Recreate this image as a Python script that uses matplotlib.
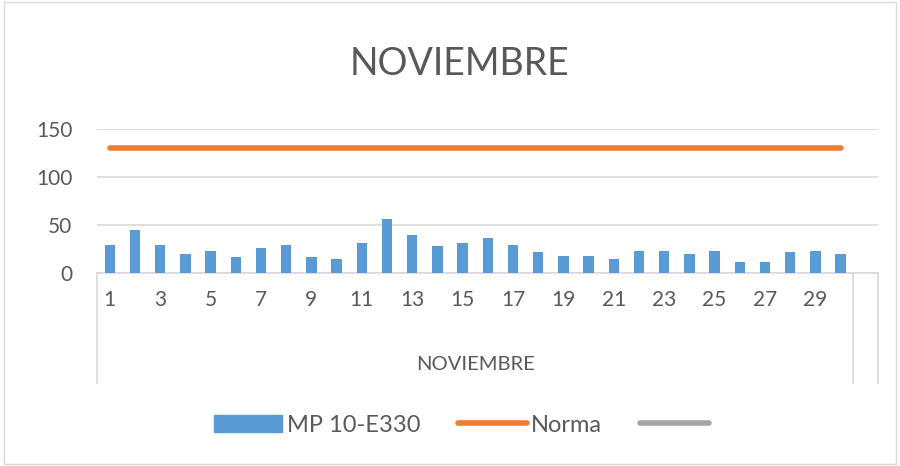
import matplotlib.pyplot as plt
from matplotlib.transforms import blended_transform_factory
from matplotlib.patches import Rectangle
from matplotlib.lines import Line2D

# Datos diarios de noviembre
dias = list(range(1, 31))
mp10 = [29, 45, 29, 20, 23, 17, 26, 29, 17, 15,
        31, 56, 40, 28, 31, 37, 29, 22, 18, 18,
        15, 23, 23, 20, 23, 12, 12, 22, 23, 20]
norma = [130] * 30
serie3 = []  # tercera serie vacia (gris en la leyenda)
tick_labels = [str(d) for d in dias[::2]]

plt.rcParams['font.family'] = ['Lato', 'DejaVu Sans']
txt = '#595959'

fig = plt.figure(figsize=(9, 4.66), dpi=100)
ax = fig.add_axes([0.108, 0.414, 0.868, 0.309])

x = list(range(len(dias)))
ax.bar(x, mp10, width=0.42, color='#5B9BD5', zorder=3)
ax.plot(x, norma, color='#ED7D31', linewidth=4, solid_capstyle='round', zorder=4)

ax.set_xlim(-0.5, 30.5)
ax.set_ylim(0, 150)
ax.set_yticks([0, 50, 100, 150])
ax.tick_params(axis='y', length=0, labelsize=15, labelcolor=txt, pad=18)
ax.set_xticks(x[::2])
ax.set_xticklabels(tick_labels)
ax.tick_params(axis='x', length=0, labelsize=15, labelcolor=txt, pad=12)
ax.grid(axis='y', color='#D9D9D9', linewidth=1.2, zorder=0)
for s in ['top', 'right', 'left']:
    ax.spines[s].set_visible(False)
ax.spines['bottom'].set_color('#D9D9D9')
ax.spines['bottom'].set_linewidth(1.2)

# ejes de categoria con grupo
tr = blended_transform_factory(ax.transData, fig.transFigure)
for xv in [-0.5, 29.5, 30.5]:
    ax.add_line(Line2D([xv, xv], [0.414, 1 - 383 / 466], transform=tr,
                       color='#D9D9D9', linewidth=1.2, clip_on=False))
ax.text(14.5, 1 - 364 / 466, 'NOVIEMBRE', transform=tr, ha='center', va='center',
        fontsize=14.5, color=txt)

fig.text(0.511, 1 - 64 / 466, 'NOVIEMBRE', ha='center', va='center', fontsize=27, color=txt)

h1 = Rectangle((0, 0), 1, 1, color='#5B9BD5')
h2 = Line2D([], [], color='#ED7D31', linewidth=4, solid_capstyle='round')
h3 = Line2D([], [], color='#A5A5A5', linewidth=4, solid_capstyle='round')
fig.legend([h1, h2, h3], ['MP 10-E330', 'Norma', ''], loc='center',
           bbox_to_anchor=(0.515, 1 - 425 / 466), ncol=3, frameon=False,
           fontsize=17, labelcolor=txt, handlelength=2.9, columnspacing=1.6,
           handletextpad=0.2)

fig.add_artist(Rectangle((0.004, 0.004), 0.992, 0.992, transform=fig.transFigure,
                         fill=False, edgecolor='#D9D9D9', linewidth=1))

fig.savefig('out.png', dpi=100)
